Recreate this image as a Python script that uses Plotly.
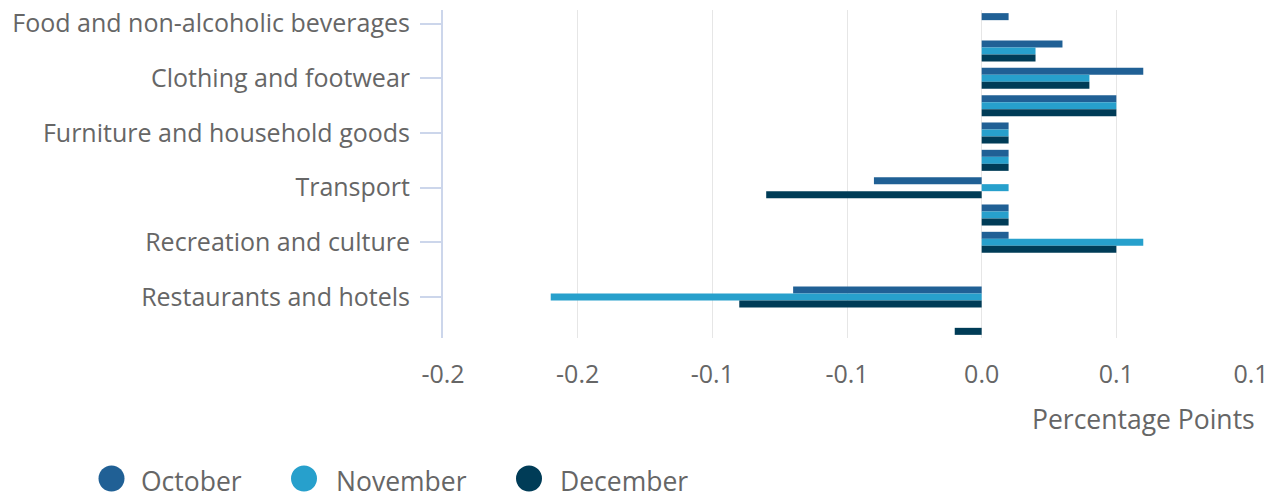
import plotly.graph_objects as go

categories = [
    "Food and non-alcoholic beverages",
    "Alcohol and tobacco",
    "Clothing and footwear",
    "Housing and household services",
    "Furniture and household goods",
    "Health",
    "Transport",
    "Communication",
    "Recreation and culture",
    "Education",
    "Restaurants and hotels",
    "Miscellaneous goods and services",
]
october = [0.01, 0.03, 0.06, 0.05, 0.01, 0.01, -0.04, 0.01, 0.01, 0.0, -0.07, 0.0]
november = [0.0, 0.02, 0.04, 0.05, 0.01, 0.01, 0.01, 0.01, 0.06, 0.0, -0.16, 0.0]
december = [0.0, 0.02, 0.04, 0.05, 0.01, 0.01, -0.08, 0.01, 0.05, 0.0, -0.09, -0.01]

series_names = ["October", "November", "December"]
series_colors = ["#206095", "#27A0CC", "#003C57"]

x_tickvals = [-0.2, -0.15, -0.1, -0.05, 0.0, 0.05, 0.1]
x_ticktext = ["-0.2", "-0.2", "-0.1", "-0.1", "0.0", "0.1", "0.1"]
y_shown = categories[0::2]

FONT = "Open Sans"
TXT = "#666666"
FS = 25
FS_BIG = 26.5

W, H = 1277, 495
L, R, T, B = 443, 26, 10, 157
PW, PH = W - L - R, H - T - B

fig = go.Figure()
for name, vals, col in zip(series_names, [october, november, december], series_colors):
    fig.add_trace(go.Bar(
        y=categories, x=vals, name=name, orientation="h",
        marker=dict(color=col, line=dict(width=0)),
        showlegend=False,
    ))

# manual legend (circles + labels)
legend_cx = [111.5, 304, 529]
legend_tx = [142, 337, 561]
circle_cy = 478.5
text_cy = 481
shapes = []
annotations = []
for name, col, cx, tx in zip(series_names, series_colors, legend_cx, legend_tx):
    shapes.append(dict(
        type="circle", xref="paper", yref="paper",
        xsizemode="pixel", ysizemode="pixel",
        xanchor=(cx - L) / PW, yanchor=(H - B - circle_cy) / PH,
        x0=-13, x1=13, y0=-13, y1=13,
        fillcolor=col, line=dict(width=0),
    ))
    annotations.append(dict(
        text=name, xref="paper", yref="paper",
        x=(tx - L) / PW, y=(H - B - text_cy) / PH, xshift=-3,
        xanchor="left", yanchor="middle", showarrow=False,
        font=dict(family=FONT, size=FS_BIG, color=TXT),
    ))

annotations.append(dict(
    text="Percentage Points", xref="paper", yref="paper",
    x=1, y=0, xanchor="right", yanchor="middle", yshift=-81, xshift=6,
    showarrow=False, font=dict(family=FONT, size=FS_BIG, color=TXT),
))

fig.update_layout(
    width=W, height=H,
    margin=dict(l=L, r=R, t=T, b=B, pad=0, autoexpand=False),
    barmode="group", bargap=0.23, bargroupgap=0,
    plot_bgcolor="white", paper_bgcolor="white",
    font=dict(family=FONT, size=FS, color=TXT),
    showlegend=False,
    shapes=shapes, annotations=annotations,
)
fig.update_xaxes(
    range=[-0.2, 0.1], tickvals=x_tickvals, ticktext=x_ticktext,
    showgrid=True, gridcolor="#e6e6e6", gridwidth=1, zeroline=False,
    showline=False, ticks="", ticklabelstandoff=19, automargin=False,
    tickfont=dict(family=FONT, size=FS, color=TXT),
)
fig.update_yaxes(
    type="category", categoryorder="array", categoryarray=categories,
    range=[11.5, -0.5], tickvals=y_shown, ticktext=y_shown,
    showgrid=False, zeroline=False, automargin=False,
    showline=True, linecolor="#ccd6eb", linewidth=2,
    ticks="outside", ticklen=21, tickcolor="#ccd6eb", tickwidth=1.5,
    ticklabelstandoff=5,
    tickfont=dict(family=FONT, size=FS, color=TXT),
)

fig.write_html("out.html")
